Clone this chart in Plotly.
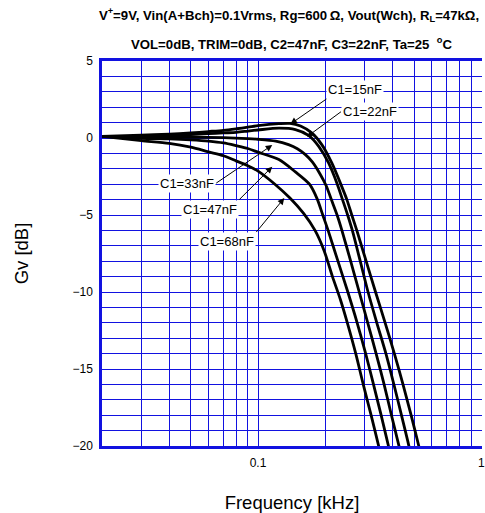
import numpy as np
import plotly.graph_objects as go

# Frequency response, Gv [dB] vs frequency [kHz], one curve per C1 value
freq_15nF = [0.02, 0.03, 0.04, 0.05, 0.06, 0.07, 0.08, 0.09, 0.10, 0.124, 0.139, 0.155, 0.174,
             0.193, 0.214, 0.237, 0.250, 0.263, 0.277, 0.305, 0.336, 0.371, 0.408, 0.446,
             0.485, 0.525, 0.545]
gain_15nF = [0.1, 0.18, 0.25, 0.33, 0.42, 0.5, 0.6, 0.7, 0.8, 0.93, 0.95, 0.78, 0.33,
             -0.43, -1.62, -3.14, -4.0, -5.0, -6.0, -8.0, -10.0, -12.0, -14.0, -16.0,
             -18.0, -20.0, -21.0]

freq_22nF = [0.02, 0.03, 0.04, 0.05, 0.06, 0.07, 0.08, 0.09, 0.10, 0.124, 0.147, 0.169, 0.187,
             0.207, 0.2265, 0.239, 0.252, 0.2645, 0.287, 0.311, 0.3405, 0.374, 0.406,
             0.439, 0.474, 0.49]
gain_22nF = [0.1, 0.1, 0.15, 0.22, 0.28, 0.33, 0.37, 0.45, 0.52, 0.64, 0.55, 0.16, -0.54,
             -1.62, -3.0, -4.0, -5.0, -6.0, -8.0, -10.0, -12.0, -14.0, -16.0,
             -18.0, -20.0, -21.0]

freq_33nF = [0.02, 0.03, 0.04, 0.05, 0.07, 0.09, 0.10, 0.12, 0.137, 0.15, 0.163, 0.175, 0.189,
             0.202, 0.213, 0.226, 0.2375, 0.260, 0.284, 0.310, 0.338, 0.367, 0.396, 0.428, 0.445]
gain_33nF = [0.1, 0.06, 0.05, 0.05, 0.02, -0.04, -0.08, -0.2, -0.43, -0.7, -1.08, -1.55, -2.3,
             -3.1, -4.0, -5.0, -6.0, -8.0, -10.0, -12.0, -14.0, -16.0, -18.0, -20.0, -21.0]

freq_47nF = [0.02, 0.03, 0.04, 0.05, 0.06, 0.07, 0.08, 0.09, 0.10, 0.124, 0.147, 0.170, 0.184,
             0.195, 0.206, 0.228, 0.2525, 0.278, 0.3035, 0.329, 0.356, 0.384, 0.40]
gain_47nF = [0.1, -0.02, -0.06, -0.12, -0.2, -0.32, -0.5, -0.68, -0.92, -1.4, -2.2, -3.0, -3.95,
             -5.0, -6.0, -8.0, -10.0, -12.0, -14.0, -16.0, -18.0, -20.0, -21.0]

freq_68nF = [0.02, 0.03, 0.04, 0.05, 0.06, 0.07, 0.08, 0.09, 0.10, 0.119, 0.139, 0.160,
             0.180, 0.1975, 0.2155, 0.234, 0.2512, 0.274, 0.296, 0.321, 0.347, 0.36]
gain_68nF = [0.1, -0.17, -0.35, -0.6, -0.9, -1.15, -1.5, -1.8, -2.15, -3.0, -3.9, -4.9,
             -6.0, -7.3, -9.0, -10.5, -12.0, -14.0, -16.0, -18.0, -20.0, -21.0]

series = [
    ("C1=15nF", freq_15nF, gain_15nF),
    ("C1=22nF", freq_22nF, gain_22nF),
    ("C1=33nF", freq_33nF, gain_33nF),
    ("C1=47nF", freq_47nF, gain_47nF),
    ("C1=68nF", freq_68nF, gain_68nF),
]

# Curve labels: arrow tip (kHz, dB), label offset from the tip (px) and the
# side of the label box that the leader line leaves from
label_names = ["C1=15nF", "C1=22nF", "C1=33nF", "C1=47nF", "C1=68nF"]
arrow_tip_freq = [0.1397, 0.1656, 0.1158, 0.1158, 0.1311]
arrow_tip_gain = [0.91, 0.08, -0.46, -1.86, -3.90]
label_dx = [36, 34, -56, -33, -28]
label_dy = [-25, -25, 38, 33, 34]
label_xanchor = ["left", "left", "right", "right", "right"]
label_yanchor = ["bottom", "middle", "middle", "top", "top"]

x_tick_vals = [0.1, 1]
x_tick_text = ["0.1", "1"]
x_minor_vals = [0.02, 0.03, 0.04, 0.05, 0.06, 0.07, 0.08, 0.09,
                0.2, 0.3, 0.4, 0.5, 0.6, 0.7, 0.8, 0.9]
y_tick_vals = [-20, -15, -10, -5, 0, 5]

FONT = "Liberation Sans, Arial, sans-serif"
GRID = "#1212e0"

fig = go.Figure()
for name, f, g in series:
    fig.add_trace(go.Scatter(
        x=f, y=g, mode="lines", name=name,
        line=dict(color="black", width=2.8, shape="spline", smoothing=0.8),
        showlegend=False, hoverinfo="skip",
    ))

annotations = []
for name, af, ag, dx, dy, xa, ya in zip(label_names, arrow_tip_freq, arrow_tip_gain,
                                        label_dx, label_dy, label_xanchor, label_yanchor):
    annotations.append(dict(
        x=np.log10(af), y=ag, xref="x", yref="y", text=name,
        showarrow=True, ax=dx, ay=dy, xanchor=xa, yanchor=ya,
        arrowhead=2, arrowsize=1.3, arrowwidth=1, arrowcolor="black", standoff=0,
        bgcolor="white", borderpad=1,
        font=dict(family=FONT, size=13, color="black"),
    ))

# Second line of the condition header
annotations.append(dict(
    x=0.4987, y=1.0442, xref="paper", yref="paper", yanchor="middle",
    text="<b>VOL=0dB, TRIM=0dB, C2=47nF, C3=22nF, Ta=25  <sup>o</sup>C</b>",
    showarrow=False, font=dict(family=FONT, size=13.2, color="black"),
))

x0 = np.log10(0.02)
fig.update_layout(
    width=485, height=513,
    margin=dict(l=102, r=0, t=61, b=67),
    paper_bgcolor="white", plot_bgcolor="white",
    font=dict(family=FONT, size=12, color="black"),
    title=dict(
        text="<b>V<sup>+</sup>=9V, Vin(A+Bch)=0.1Vrms, Rg=600\u2009\u03a9, Vout(Wch), "
             "R<sub>L</sub>=47k\u03a9,</b>",
        x=289 / 485, xanchor="center", y=1 - 15 / 513, yanchor="middle",
        font=dict(family=FONT, size=13.2, color="black"),
    ),
    annotations=annotations,
    xaxis=dict(
        type="log", range=[x0, x0 + 383 / 225],
        tickmode="array", tickvals=x_tick_vals, ticktext=x_tick_text,
        ticks="", ticklabelstandoff=4, ticklabeloverflow="allow",
        showgrid=True, gridcolor=GRID, gridwidth=1,
        minor=dict(tickmode="array", tickvals=x_minor_vals, showgrid=True,
                   gridcolor=GRID, gridwidth=1, ticks=""),
        showline=True, linecolor=GRID, linewidth=2.5, mirror=True,
        zeroline=False, tickfont=dict(size=12),
        title=dict(text="Frequency [kHz]", standoff=27,
                   font=dict(family=FONT, size=18.5, color="black")),
    ),
    yaxis=dict(
        range=[-20, 5], tickmode="array", tickvals=y_tick_vals,
        ticks="", ticklabelstandoff=4,
        showgrid=True, gridcolor=GRID, gridwidth=1,
        minor=dict(dtick=1, showgrid=True, gridcolor=GRID, gridwidth=1, ticks=""),
        showline=True, linecolor=GRID, linewidth=2.5,
        zeroline=False, tickfont=dict(size=12),
        title=dict(text="Gv [dB]", standoff=40,
                   font=dict(family=FONT, size=18.5, color="black")),
    ),
)

fig.write_html("out.html")
